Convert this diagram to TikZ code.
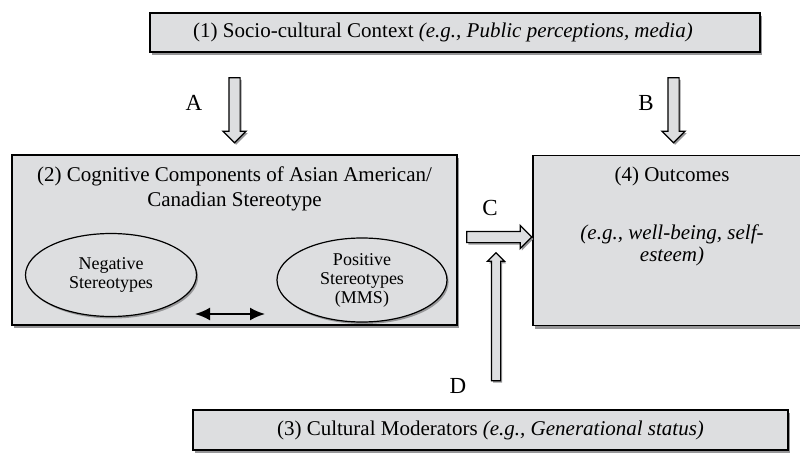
\documentclass[tikz,border=0pt]{standalone}
\usepackage{fontspec}
\setmainfont{Liberation Serif}
\usepackage{tikz}
\usetikzlibrary{positioning,shapes.geometric,shapes.arrows,shadows,arrows.meta}
\definecolor{boxgray}{RGB}{221,222,224}
\definecolor{shadowgray}{RGB}{150,150,152}
\tikzset{
box/.style={rectangle,draw=black,line width=0.8pt,fill=boxgray,
  drop shadow={shadow xshift=1pt,shadow yshift=-1.5pt,fill=shadowgray,opacity=1}},
oval/.style={ellipse,draw=black,line width=0.6pt,fill=boxgray,align=center,
  font=\fontsize{9}{9.5}\selectfont,inner sep=0pt,
  drop shadow={shadow xshift=0.8pt,shadow yshift=-1pt,fill=shadowgray,opacity=1}},
blockarrow/.style={single arrow,draw=black,line width=0.6pt,fill=boxgray,
  inner xsep=0pt,inner ysep=2.5pt,minimum height=32.5pt,
  single arrow head extend=3pt,
  drop shadow={shadow xshift=0.8pt,shadow yshift=-1pt,fill=shadowgray,opacity=1}},
thinarrow/.style={blockarrow,minimum height=64pt,inner ysep=2pt,
  single arrow head extend=2pt},
path/.style={font=\fontsize{11.5}{13}\selectfont,inner sep=0pt},
txt/.style={inner sep=0pt,align=center},
}
\begin{document}
\begin{tikzpicture}[x=0.5pt,y=-0.5pt,font=\fontsize{10.5}{12.5}\selectfont]
\useasboundingbox (0,0) rectangle (800,455);

% the four boxes
\node[box,minimum width=305pt,minimum height=19.5pt] (ctx) at (455,32.5) {};
\node[box,minimum width=222.5pt,minimum height=85pt] (cog) at (234.5,240) {};
\node[box,minimum width=139pt,minimum height=85pt] (out) at (672,240.5) {};
\node[box,minimum width=297.5pt,minimum height=20pt] (mod) at (490.5,430)
  {(3) Cultural Moderators \textit{(e.g., Generational status)}};

% texts inside the boxes
\node[txt] (ctxtext) at (443,32.5)
  {(1) Socio-cultural Context \textit{(e.g., Public perceptions, media)}};
\node[txt,below=6pt of cog.north] (cogtitle)
  {(2) Cognitive Components of Asian American/\\Canadian Stereotype};
\node[txt,below=6pt of out.north] (outtitle) {(4) Outcomes};
\node[txt,below=19pt of outtitle,font=\fontsize{10.5}{11}\selectfont\itshape] (outeg)
  {(e.g., well-being, self-\\esteem)};

% stereotypes
\node[oval,minimum width=85.5pt,minimum height=41.5pt] (neg) at (111,275)
  {Negative\\Stereotypes};
\node[oval,minimum width=85pt,minimum height=42pt] (pos) at (362,280)
  {Positive\\Stereotypes\\(MMS)};
\coordinate (negend) at (195,314);
\coordinate (posend) at (265,314);
\draw[{Latex[length=7.5pt,width=6.5pt]}-{Latex[length=7.5pt,width=6.5pt]},line width=1pt]
  (negend) -- (posend);

% paths
\node[blockarrow,rotate=-90] (arrA) at (234.5,107.5) {};
\node[blockarrow,rotate=-90] (arrB) at (673.5,107.5) {};
\node[blockarrow] (arrC) at (496.5,237) {};
\node[thinarrow,rotate=90] (arrD) at (496,319) {};
\node[path] (labA) at (194,103) {A};
\node[path] (labB) at (646,103) {B};
\node[path] (labC) at (490,208) {C};
\node[path] (labD) at (458,386) {D};
\end{tikzpicture}
\end{document}
